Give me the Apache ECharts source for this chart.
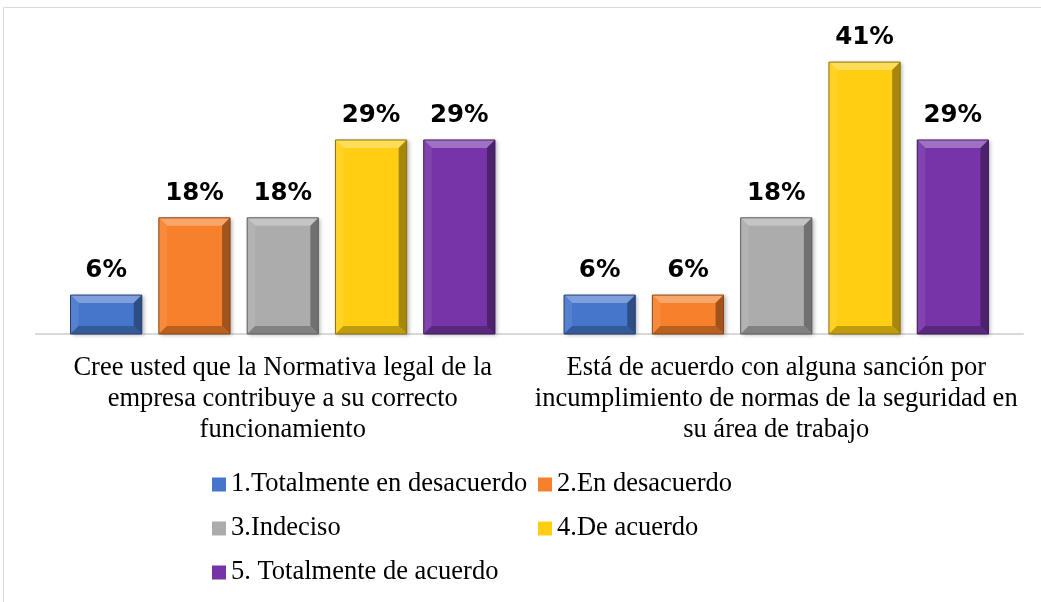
<!DOCTYPE html>
<html>
<head>
<meta charset="utf-8">
<script src="https://cdn.jsdelivr.net/npm/echarts@6/dist/echarts.min.js"></script>
<style>
  html, body { margin: 0; padding: 0; background: #fff; }
  #chart { width: 1041px; height: 602px; }
</style>
</head>
<body>
<div id="chart"></div>
<script>
// datos del gráfico
const categories = [
  "Cree usted que la Normativa legal de la\nempresa contribuye a su correcto\nfuncionamiento",
  "Está de acuerdo con alguna sanción por\nincumplimiento de normas de la seguridad en\nsu área de trabajo",
];
const seriesNames = [
  "1.Totalmente en desacuerdo",
  "2.En desacuerdo",
  "3.Indeciso",
  "4.De acuerdo",
  "5. Totalmente de acuerdo",
];
const totalDesacuerdo = [5.9, 5.9];
const enDesacuerdo = [17.6, 5.9];
const indeciso = [17.6, 17.6];
const deAcuerdo = [29.4, 41.2];
const totalAcuerdo = [29.4, 29.4];
const seriesValues = [totalDesacuerdo, enDesacuerdo, indeciso, deAcuerdo, totalAcuerdo];
const colors = ["#4676CC", "#F7802C", "#ACACAC", "#FFCE12", "#7634A8"];

function mix(hex, f) {
  // f > 0 aclara, f < 0 oscurece
  const n = parseInt(hex.slice(1), 16);
  let r = (n >> 16) & 255, g = (n >> 8) & 255, b = n & 255;
  const t = f > 0 ? 255 : 0;
  const p = Math.abs(f);
  r = Math.round(r + (t - r) * p);
  g = Math.round(g + (t - g) * p);
  b = Math.round(b + (t - b) * p);
  return "rgb(" + r + "," + g + "," + b + ")";
}

const catGap = 0.14;
const barGap = 0.24;
const bevel = 8;

function makeRender(idx) {
  return function (params, api) {
    const cat = api.value(0);
    const val = api.value(1);
    const base = api.coord([cat, 0]);
    const top = api.coord([cat, val]);
    const band = api.size([1, 0])[0];
    const groupW = band * (1 - catGap);
    const w = groupW / (5 + 4 * barGap);
    const x = base[0] - groupW / 2 + idx * w * (1 + barGap);
    const y = top[1];
    const h = base[1] - top[1];
    const c = colors[idx];
    const b = Math.min(bevel, h / 2);
    return {
      type: "group",
      children: [
        {
          type: "rect",
          shape: { x: x, y: y, width: w, height: h },
          style: {
            fill: c,
            shadowBlur: 4,
            shadowOffsetX: 2,
            shadowOffsetY: 1,
            shadowColor: "rgba(0,0,0,0.3)",
          },
        },
        {
          type: "polygon",
          shape: { points: [[x, y], [x + w, y], [x + w - b, y + b], [x + b, y + b]] },
          style: { fill: mix(c, 0.3) },
        },
        {
          type: "polygon",
          shape: { points: [[x, y], [x + b, y + b], [x + b, y + h - b], [x, y + h]] },
          style: { fill: mix(c, 0.08) },
        },
        {
          type: "polygon",
          shape: { points: [[x + w, y], [x + w, y + h], [x + w - b, y + h - b], [x + w - b, y + b]] },
          style: { fill: mix(c, -0.35) },
        },
        {
          type: "polygon",
          shape: { points: [[x, y + h], [x + b, y + h - b], [x + w - b, y + h - b], [x + w, y + h]] },
          style: { fill: mix(c, -0.25) },
        },
        {
          type: "rect",
          shape: { x: x, y: y, width: w, height: h },
          style: { fill: "none", stroke: mix(c, -0.45), lineWidth: 1 },
        },
        {
          type: "text",
          x: x + w / 2,
          y: y - 12,
          style: {
            text: Math.round(val) + "%",
            align: "center",
            verticalAlign: "bottom",
            fontFamily: "DejaVu Sans",
            fontWeight: "bold",
            fontSize: 24.5,
            fill: "#000",
          },
        },
      ],
    };
  };
}

const mychart = echarts.init(document.getElementById("chart"));
const legendText = {
  fontFamily: "Liberation Serif",
  fontSize: 26.5,
  color: "#000",
  lineHeight: 27,
};
const option = {
  animation: false,
  graphic: [
    {
      type: "rect",
      shape: { x: 3.5, y: 7.5, width: 1100, height: 700 },
      style: { fill: "none", stroke: "#d9d9d9", lineWidth: 1 },
      silent: true,
    },
  ],
  legend: [
    {
      orient: "vertical",
      left: 207,
      top: 466,
      itemWidth: 14,
      itemHeight: 14,
      itemGap: 17,
      itemTextGap: 5,
      icon: "rect",
      data: [seriesNames[0], seriesNames[2], seriesNames[4]],
      textStyle: legendText,
    },
    {
      orient: "vertical",
      left: 533,
      top: 466,
      itemWidth: 14,
      itemHeight: 14,
      itemGap: 17,
      itemTextGap: 5,
      icon: "rect",
      data: [seriesNames[1], seriesNames[3]],
      textStyle: legendText,
    },
  ],
  grid: {
    left: 36,
    right: 18,
    top: 37,
    bottom: 268,
  },
  xAxis: {
    type: "category",
    data: categories,
    axisLine: { lineStyle: { color: "#d9d9d9", width: 2 } },
    axisTick: { show: false },
    axisLabel: {
      interval: 0,
      margin: 19,
      fontFamily: "Liberation Serif",
      fontSize: 26.5,
      lineHeight: 31,
      color: "#000",
    },
  },
  yAxis: {
    type: "value",
    min: 0,
    max: 45,
    show: false,
    splitLine: { show: false },
  },
  series: seriesNames.map((name, i) => ({
    name: name,
    type: "custom",
    renderItem: makeRender(i),
    itemStyle: { color: colors[i] },
    encode: { x: 0, y: 1 },
    data: seriesValues[i].map((v, k) => [k, v]),
  })),
};
mychart.setOption(option);
</script>
</body>
</html>
